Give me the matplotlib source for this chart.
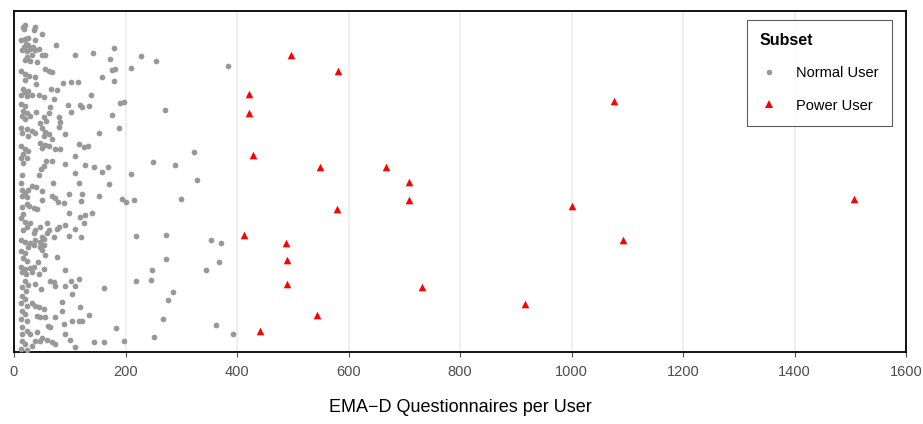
import matplotlib
matplotlib.use("Agg")
import matplotlib.pyplot as plt
from matplotlib.lines import Line2D

plt.rcParams['font.family'] = ['Liberation Sans', 'DejaVu Sans']

# Normal users: questionnaires per user, and vertical jitter position
normal_x = [
    16, 20, 18, 38, 36, 51, 20, 26, 13, 22, 18, 26, 34, 14, 23, 29, 38, 44, 50, 32,
    23, 19, 29, 41, 55, 37, 76, 110, 142, 56, 63, 68, 13, 20, 27, 38, 19, 39, 157, 87,
    102, 115, 16, 20, 26, 13, 23, 32, 44, 54, 67, 78, 139, 71,
    180, 173, 228, 255, 175, 182, 210, 383, 179, 191, 198, 271, 176, 188, 322, 249,
    289, 168, 209, 329, 170,
    193, 200, 215, 300, 219, 273, 353, 372, 273, 248, 345, 368, 218, 246, 285, 276,
    267, 362, 392, 183, 198, 252,
    13, 20, 17, 23, 14, 20, 29, 39, 53, 62, 57, 47, 65, 81, 82, 81, 97, 103, 118, 122,
    134, 13, 23, 14, 32, 26, 37, 50, 56, 53, 62, 68, 92, 152, 47, 56, 50, 62, 74, 83,
    116, 125, 133, 13, 20, 26, 17, 13, 23, 16, 68, 57, 53, 49, 44, 92, 110, 128, 143, 158,
    110, 14,
    13, 14, 20, 26, 14, 23, 32, 39, 50, 70, 116, 68, 74, 79, 89, 98, 122, 121, 153, 50,
    14, 23, 27, 35, 41, 17, 13, 20, 29, 23, 17, 59, 47, 62, 38, 35, 51, 77, 80, 92,
    99, 119, 127, 140, 125, 110, 98, 121, 71, 59, 13, 20, 29, 38, 47, 53, 26, 35, 47, 53,
    13, 20, 17, 23, 51, 56, 77, 43,
    13, 20, 29, 14, 22, 32, 35, 53, 44, 91, 20, 25, 14, 22, 38, 49, 65, 71, 74, 91,
    103, 116, 110, 104, 161, 14, 20, 13, 23, 32, 38, 44, 53, 86, 119, 86, 14, 20, 13, 23,
    41, 47, 56, 74, 89, 104, 116, 122, 135, 61, 65, 14, 23, 14, 29, 41, 50, 59, 68, 74,
    92, 101, 110, 143, 161, 14, 20, 13, 23, 32, 38, 47,
]
normal_jitter = [
    325, 327, 323, 325, 322, 318, 313, 314, 312, 308, 305, 307, 305, 302, 301, 303, 302, 303, 297, 297,
    295, 292, 291, 290, 297, 312, 307, 297, 299, 283, 281, 280, 281, 278, 276, 275, 272, 268, 275, 269,
    270, 270, 263, 260, 261, 257, 256, 257, 257, 255, 263, 262, 257, 253,
    304, 293, 296, 291, 282, 283, 284, 286, 271, 249, 250, 242, 237, 224, 200, 190,
    187, 185, 178, 172, 168,
    153, 150, 152, 153, 116, 117, 112, 109, 93, 82, 82, 90, 71, 72, 60, 52,
    33, 27, 18, 24, 11, 15,
    248, 246, 241, 239, 236, 233, 236, 240, 235, 239, 231, 229, 245, 235, 230, 225, 247, 240, 247, 245,
    246, 224, 223, 219, 221, 216, 219, 224, 220, 216, 218, 213, 218, 219, 209, 207, 204, 206, 203, 203,
    208, 205, 206, 206, 203, 201, 198, 194, 194, 189, 191, 191, 186, 183, 177, 188, 196, 187, 185, 180,
    179, 177,
    169, 162, 159, 162, 156, 155, 166, 165, 161, 169, 169, 156, 154, 150, 149, 158, 158, 151, 156, 152,
    145, 148, 146, 144, 143, 138, 134, 130, 129, 125, 122, 129, 125, 122, 122, 119, 115, 123, 125, 127,
    139, 135, 137, 139, 129, 123, 116, 115, 115, 119, 112, 110, 109, 112, 110, 113, 105, 107, 105, 107,
    101, 99, 94, 91, 102, 97, 95, 90,
    85, 83, 84, 80, 78, 80, 85, 83, 78, 82, 71, 67, 65, 61, 68, 63, 71, 70, 66, 66,
    71, 73, 66, 58, 64, 56, 53, 49, 46, 49, 46, 45, 43, 50, 45, 41, 41, 38, 33, 31,
    36, 35, 35, 35, 28, 31, 31, 31, 37, 26, 25, 25, 21, 18, 18, 20, 14, 12, 10, 8,
    18, 12, 5, 10, 10, 11, 8, 3, 2, 6, 11, 11,
]

# Power users
power_x = [496, 581, 421, 1076, 422, 429, 548, 667, 709, 708, 579, 1000, 1507,
           412, 488, 1092, 490, 489, 731, 916, 543, 441]
power_jitter = [297, 281, 258, 251, 239, 197, 185, 185, 170, 152, 143, 146, 153,
                117, 109, 112, 92, 68, 65, 48, 37, 21]

subset_labels = ["Normal User", "Power User"]
x_ticks = [0, 200, 400, 600, 800, 1000, 1200, 1400, 1600]
x_label = "EMA\u2212D Questionnaires per User"
legend_title = "Subset"

W, H = 923, 424
fig = plt.figure(figsize=(W / 100, H / 100), dpi=100)
ax = fig.add_axes([14 / W, (H - 352) / H, (906 - 14) / W, (352 - 11) / H])

ax.scatter(normal_x, normal_jitter, s=17, color="#999999", marker="o",
           linewidths=0, zorder=3)
ax.scatter(power_x, power_jitter, s=30, color="#FF0000", marker="^",
           linewidths=0, zorder=3)

ax.set_xlim(0, 1600)
ax.set_ylim(0, 341)
ax.set_xticks(x_ticks)
ax.set_xticklabels([str(t) for t in x_ticks])
ax.set_yticks([])
ax.grid(axis="x", color="#EBEBEB", linewidth=1.1, zorder=0)
ax.set_axisbelow(True)
for sp in ax.spines.values():
    sp.set_color("black")
    sp.set_linewidth(1.3)
ax.tick_params(axis="x", colors="#4D4D4D", labelsize=10.5, length=3.5, width=0.8, pad=6)
ax.set_xlabel(x_label, fontsize=13, color="black", labelpad=14)

handles = [
    Line2D([], [], linestyle="none", marker="o", markersize=4.0,
           markerfacecolor="#999999", markeredgewidth=0),
    Line2D([], [], linestyle="none", marker="^", markersize=5.5,
           markerfacecolor="#FF0000", markeredgewidth=0),
]
leg = ax.legend(handles, subset_labels, title=legend_title,
                loc="upper right", bbox_to_anchor=(892 / W, 1 - 20 / H),
                bbox_transform=fig.transFigure, frameon=True, fancybox=False,
                fontsize=10.5, title_fontproperties={"weight": "bold", "size": 11.5},
                borderpad=0.9, labelspacing=1.25, handletextpad=1.3,
                handlelength=1.2, borderaxespad=0)
leg._legend_box.align = "left"
leg.get_frame().set_edgecolor("#333333")
leg.get_frame().set_linewidth(0.8)

fig.savefig("out.png", dpi=100)
